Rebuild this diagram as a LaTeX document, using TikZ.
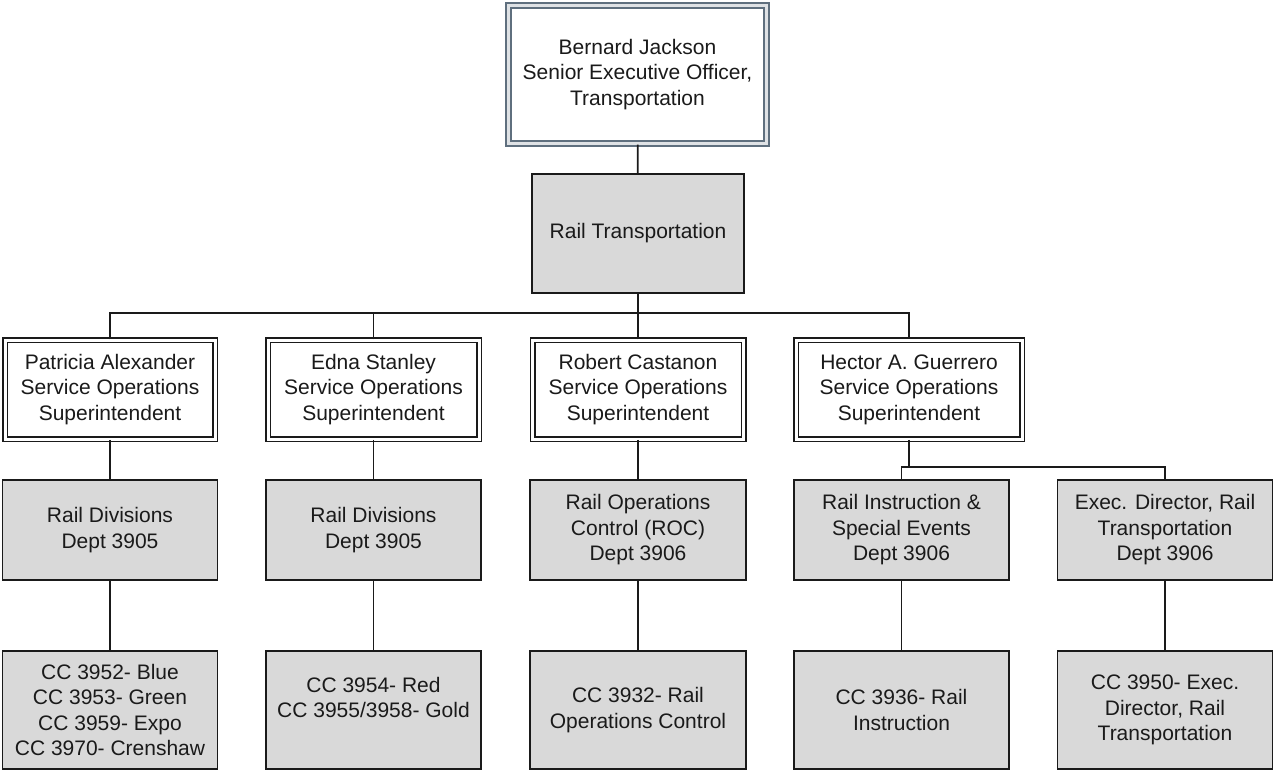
\documentclass[tikz,border=0pt]{standalone}
\usepackage{fontspec}
\setmainfont{Liberation Sans}
\usetikzlibrary{positioning}
\definecolor{ink}{HTML}{1A1A1A}
\definecolor{slate}{HTML}{5F6F7E}
\definecolor{boxgrey}{HTML}{D9D9D9}

\begin{document}
\begin{tikzpicture}[
  x=1pt, y=-1pt,
  font=\fontsize{21}{25.5}\selectfont,
  head/.style={draw=slate, line width=2.2pt, double=slate!20, double distance=2.2pt,
           fill=white, text=ink, align=center, inner sep=0pt,
           minimum width=258pt, minimum height=138pt},
  mgr/.style={draw=ink, line width=1.5pt, double=white, double distance=3pt,
           fill=white, text=ink, align=center, inner sep=0pt, minimum height=99pt},
  unit/.style={draw=ink, line width=1.6pt, fill=boxgrey, text=ink, align=center,
           inner sep=0pt, minimum width=215pt, minimum height=100.5pt},
  cc/.style={unit, minimum height=118.5pt},
  wire/.style={draw=ink, line width=1.8pt}
]
  \useasboundingbox (0,0) rectangle (1274,771);

  \node[head] (BJ) at (637.5,74.5) {Bernard Jackson\\ Senior Executive Officer,\\ Transportation};
  \node[unit, minimum width=212.5pt, minimum height=119.5pt] (RT) at (638,233.5) {Rail Transportation};

  % superintendents
  \node[mgr, minimum width=210pt] (PA) at (110,389.5) {Patricia Alexander\\ Service Operations\\ Superintendent};
  \node[mgr, minimum width=211pt] (ES) at (373.5,389.5) {Edna Stanley\\ Service Operations\\ Superintendent};
  \node[mgr, minimum width=211pt] (RC) at (638,389.5) {Robert Castanon\\ Service Operations\\ Superintendent};
  \node[mgr, minimum width=226pt] (HG) at (909,389.5) {Hector A. Guerrero\\ Service Operations\\ Superintendent};

  % departments
  \node[unit] (PAd) at (110,530) {Rail Divisions\\ Dept 3905};
  \node[unit] (ESd) at (373.5,530) {Rail Divisions\\ Dept 3905};
  \node[unit, minimum width=216.5pt] (RCd) at (638,530) {Rail Operations\\ Control (ROC)\\ Dept 3906};
  \node[unit] (RI) at (901.5,530) {Rail Instruction \&\\ Special Events\\ Dept 3906};
  \node[unit] (ED) at (1165,530) {Exec. Director, Rail\\ Transportation\\ Dept 3906};

  % cost centres
  \node[cc] (PAc) at (110,710) {CC 3952- Blue\\ CC 3953- Green\\ CC 3959- Expo\\ CC 3970- Crenshaw};
  \node[cc] (ESc) at (373.5,710) {CC 3954- Red\\ CC 3955/3958- Gold\\};
  \node[cc, minimum width=216.5pt] (RCc) at (638,710) {CC 3932- Rail\\ Operations Control};
  \node[cc] (RIc) at (901.5,710) {CC 3936- Rail\\ Instruction};
  \node[cc] (EDc) at (1165,710) {CC 3950- Exec.\\ Director, Rail\\ Transportation};

  \coordinate (bus) at (0,313);
  \coordinate (sub) at (0,467);

  \draw[wire] (BJ) -- (RT);
  \draw[wire] (RT.south) -- (RT.south |- bus);
  \draw[wire] (PA.north) -- (PA.north |- bus) -| (HG.north);
  \draw[wire] (ES.north) -- (ES.north |- bus);
  \draw[wire] (RC.north) -- (RC.north |- bus);
  \draw[wire] (HG.south) -- (HG.south |- sub);
  \draw[wire] (RI.north) -- (RI.north |- sub) -| (ED.north);

  \draw[wire] (PA) -- (PAd);
  \draw[wire] (ES) -- (ESd);
  \draw[wire] (RC) -- (RCd);
  \draw[wire] (PAd) -- (PAc);
  \draw[wire] (ESd) -- (ESc);
  \draw[wire] (RCd) -- (RCc);
  \draw[wire] (RI) -- (RIc);
  \draw[wire] (ED) -- (EDc);
\end{tikzpicture}
\end{document}
